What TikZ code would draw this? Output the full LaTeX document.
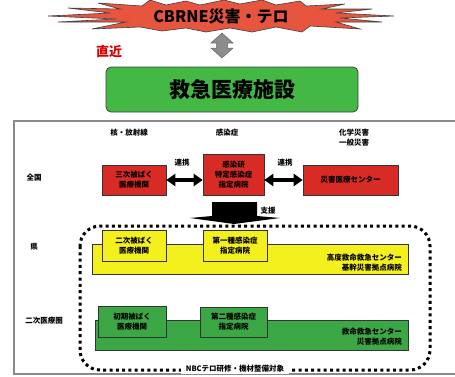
\documentclass[tikz,border=0pt]{standalone}
\usepackage{fontspec}
\setmainfont{Noto Sans CJK JP}
\usetikzlibrary{arrows.meta}
\definecolor{boomred}{HTML}{E8553F}
\definecolor{boxred}{HTML}{D92B25}
\definecolor{topgreen}{HTML}{44B845}
\definecolor{bandgreen}{HTML}{3CA845}
\definecolor{bandyellow}{HTML}{F4F01E}
\definecolor{framegray}{HTML}{8A8A8A}
\definecolor{arrowgray}{HTML}{8C8C8C}
\begin{document}
\begin{tikzpicture}[x=1pt,y=-1pt,
  lbl/.style={font=\bfseries\fontsize{7.5}{10}\selectfont, align=center, inner sep=1pt},
  redbox/.style={lbl, draw=black!80, fill=boxred, line width=0.6pt},
  ylbox/.style={lbl, draw=black!80, fill=bandyellow, line width=0.6pt},
  grbox/.style={lbl, draw=black!80, fill=bandgreen, line width=0.6pt},
  dblarrow/.style={line width=3.5pt, {Triangle[length=9pt,width=12pt]}-{Triangle[length=9pt,width=12pt]}},
  dotframe/.style={line width=3pt, dash pattern=on 3pt off 3.3pt, rounded corners=20pt}
]
\useasboundingbox (0,0) rectangle (455,376);

% explosion
\draw[fill=boomred, draw=black!75, line width=0.6pt]
 (48,16) -- (110,13) -- (68,8) -- (120,9) -- (98,3) -- (142,6) -- (150,0) -- (166,5)
 -- (186,1) -- (200,5) -- (224,0) -- (240,4) -- (262,0) -- (276,5) -- (300,1) -- (306,6)
 -- (345,4) -- (322,9) -- (372,9) -- (336,13) -- (394,16) -- (340,18) -- (382,22)
 -- (336,22) -- (360,29) -- (310,26) -- (302,32) -- (276,27) -- (252,32) -- (230,28)
 -- (206,32) -- (186,28) -- (162,31) -- (140,27) -- (92,29) -- (126,22) -- (58,22)
 -- (116,19) -- cycle;
\node[font=\bfseries\fontsize{16}{18}\selectfont, inner sep=0pt] (cbrne) at (221,16) {CBRNE災害・テロ};

% gray double arrow
\draw[fill=arrowgray, draw=black!60, line width=0.5pt]
 (222,33) -- (233,43) -- (227.5,43) -- (227.5,48) -- (233,48) -- (222,58) -- (211,48)
 -- (216.5,48) -- (216.5,43) -- (211,43) -- cycle;
\node[font=\bfseries\fontsize{13}{15}\selectfont, text=red!85!black, inner sep=0pt] (near) at (109,52) {直近};

% emergency facility
\node[draw=black!75, fill=topgreen, rounded corners=5pt, line width=0.8pt,
  minimum width=252pt, minimum height=45pt, font=\bfseries\fontsize{21}{24}\selectfont] (ems) at (232,89.5) {救急医療施設};

% frame
\draw[framegray, line width=1.2pt] (455,121) -- (14,121) -- (14,374) -- (455,374);

% headers
\node[lbl] (h1) at (129,133) {核・放射線};
\node[lbl] (h2) at (227,133) {感染症};
\node[lbl] (h3) at (354,138) {化学災害\\一般災害};
\node[lbl] (zk) at (34,178) {全国};
\node[lbl] (ken) at (34,247) {県};
\node[lbl] (niji) at (44,321) {二次医療圏};

% national level
\node[redbox, minimum width=64pt, minimum height=30pt] (r1) at (134,180) {三次被ばく\\医療機関};
\node[redbox, minimum width=61pt, minimum height=41pt] (r2) at (233.5,174.5) {感染研\\特定感染症\\指定病院};
\node[redbox, minimum width=95pt, minimum height=30pt] (r3) at (350.5,180) {災害医療センター};
\draw[dblarrow] (r1.east) -- (r1.east -| r2.west);
\draw[dblarrow] (r3.west -| r2.east) -- (r3.west);
\node[lbl] (c1) at (182,163) {連携};
\node[lbl] (c2) at (285,163) {連携};

% support arrow
\fill[black] (212,202) -- (257,202) -- (257,216) -- (280,218) -- (234,224) -- (190,218) -- (212,216) -- cycle;
\node[lbl] (shien) at (268,211) {支援};

% dotted region
\draw[dotframe] (80,226) rectangle (430,370);
\node[lbl, fill=white, inner xsep=5pt] (nbc) at (235,369) {NBCテロ研修・機材整備対象};

% prefecture level
\node[draw=black!80, fill=bandyellow, line width=0.6pt, minimum width=316pt, minimum height=30pt, inner sep=0pt] (yband) at (250,259) {};
\node[ylbox, minimum width=64pt, minimum height=31pt] (y1) at (134,245.5) {二次被ばく\\医療機関};
\node[ylbox, minimum width=64pt, minimum height=31pt] (y2) at (235,245.5) {第一種感染症\\指定病院};
\node[lbl, align=right, anchor=east] (ytxt) at (403,263) {高度救命救急センター\\基幹災害拠点病院};

% secondary medical area
\node[draw=black!80, fill=bandgreen, line width=0.6pt, minimum width=313pt, minimum height=30pt, inner sep=0pt] (gband) at (251.5,335) {};
\node[grbox, minimum width=68pt, minimum height=31pt] (g1) at (132,321.5) {初期被ばく\\医療機関};
\node[grbox, minimum width=67pt, minimum height=30pt] (g2) at (233.5,322) {第二種感染症\\指定病院};
\node[lbl, align=right, anchor=east] (gtxt) at (403,337) {救命救急センター\\災害拠点病院};
\end{tikzpicture}
\end{document}
